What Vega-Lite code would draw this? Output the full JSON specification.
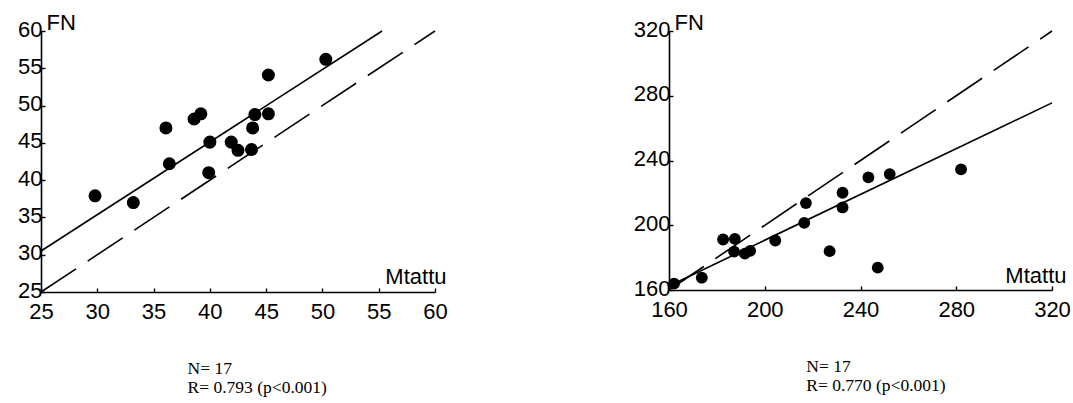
{
  "$schema": "https://vega.github.io/schema/vega-lite/v6.json",
  "background": "white",
  "padding": {"left": 17, "top": 11, "right": 5, "bottom": 5},
  "spacing": 185,
  "config": {
    "view": {"stroke": null},
    "axis": {
      "grid": false,
      "domainColor": "black",
      "domainWidth": 1.6,
      "tickColor": "black",
      "tickWidth": 1.4,
      "tickSize": -4,
      "labelFont": "Liberation Sans",
      "labelFontSize": 22,
      "labelColor": "black",
      "labelFlush": false,
      "labelOverlap": false,
      "titleFont": "Liberation Sans",
      "titleFontSize": 22,
      "titleFontWeight": "normal",
      "titleColor": "black",
      "titleAngle": 0
    }
  },
  "datasets": {
    "leftPts": [
      {"m": 29.8, "fn": 37.9}, {"m": 33.2, "fn": 37.0}, {"m": 36.1, "fn": 47.0},
      {"m": 36.4, "fn": 42.2}, {"m": 38.6, "fn": 48.2}, {"m": 39.2, "fn": 48.9},
      {"m": 40.0, "fn": 45.1}, {"m": 39.9, "fn": 41.0}, {"m": 41.9, "fn": 45.1},
      {"m": 42.5, "fn": 44.0}, {"m": 43.7, "fn": 44.1}, {"m": 43.8, "fn": 47.0},
      {"m": 44.0, "fn": 48.8}, {"m": 45.2, "fn": 48.9}, {"m": 45.2, "fn": 54.1},
      {"m": 50.3, "fn": 56.2}
    ],
    "leftLines": [
      {"kind": "fit", "m": 25, "fn": 30.5}, {"kind": "fit", "m": 55.3, "fn": 60},
      {"kind": "identity", "m": 25, "fn": 25}, {"kind": "identity", "m": 60, "fn": 60}
    ],
    "rightPts": [
      {"m": 162.1, "fn": 163.9}, {"m": 173.7, "fn": 167.6}, {"m": 182.6, "fn": 191.2},
      {"m": 187.5, "fn": 191.6}, {"m": 187.2, "fn": 183.7}, {"m": 191.7, "fn": 182.5},
      {"m": 193.9, "fn": 184.2}, {"m": 204.4, "fn": 190.6}, {"m": 217.2, "fn": 213.7},
      {"m": 216.5, "fn": 201.5}, {"m": 232.5, "fn": 220.1}, {"m": 232.5, "fn": 211.0},
      {"m": 227.1, "fn": 184.0}, {"m": 243.3, "fn": 229.6}, {"m": 252.2, "fn": 231.6},
      {"m": 247.2, "fn": 173.8}, {"m": 282.0, "fn": 234.5}
    ],
    "rightLines": [
      {"kind": "fit", "m": 160, "fn": 162.5}, {"kind": "fit", "m": 320, "fn": 275.6},
      {"kind": "identity", "m": 160, "fn": 160}, {"kind": "identity", "m": 320, "fn": 320}
    ]
  },
  "hconcat": [
    {
      "width": 394,
      "height": 261,
      "title": {
        "text": ["N= 17", "R= 0.793 (p<0.001)"],
        "orient": "bottom",
        "anchor": "start",
        "dx": 170,
        "offset": 38,
        "font": "Liberation Serif",
        "fontSize": 17.5,
        "fontWeight": "normal",
        "color": "black",
        "lineHeight": 19
      },
      "encoding": {
        "x": {
          "field": "m", "type": "quantitative",
          "scale": {"domain": [25, 60], "nice": false, "zero": false},
          "axis": {"values": [25, 30, 35, 40, 45, 50, 55, 60], "title": "Mtattu", "titleAlign": "right", "titleBaseline": "alphabetic", "titleX": 405, "titleY": -9, "labelPadding": 13}
        },
        "y": {
          "field": "fn", "type": "quantitative",
          "scale": {"domain": [25, 60], "nice": false, "zero": false},
          "axis": {"values": [25, 30, 35, 40, 45, 50, 55, 60], "title": "FN", "titleAlign": "left", "titleBaseline": "alphabetic", "titleX": 5, "titleY": -2, "labelPadding": 3, "labelBaseline": "middle", "labelOffset": -2}
        }
      },
      "layer": [
        {
          "data": {"name": "leftLines"},
          "transform": [{"filter": "datum.kind === 'identity'"}],
          "mark": {"type": "line", "color": "black", "strokeWidth": 1.6, "strokeDash": [42, 14]}
        },
        {
          "data": {"name": "leftLines"},
          "transform": [{"filter": "datum.kind === 'fit'"}],
          "mark": {"type": "line", "color": "black", "strokeWidth": 1.6}
        },
        {
          "data": {"name": "leftPts"},
          "mark": {"type": "circle", "color": "black", "size": 170, "opacity": 1}
        }
      ]
    },
    {
      "width": 383,
      "height": 259,
      "title": {
        "text": ["N= 17", "R= 0.770 (p<0.001)"],
        "orient": "bottom",
        "anchor": "start",
        "dx": 173,
        "offset": 38,
        "font": "Liberation Serif",
        "fontSize": 17.5,
        "fontWeight": "normal",
        "color": "black",
        "lineHeight": 19
      },
      "encoding": {
        "x": {
          "field": "m", "type": "quantitative",
          "scale": {"domain": [160, 320], "nice": false, "zero": false},
          "axis": {"values": [160, 200, 240, 280, 320], "title": "Mtattu", "titleAlign": "right", "titleBaseline": "alphabetic", "titleX": 397, "titleY": -8, "labelPadding": 13}
        },
        "y": {
          "field": "fn", "type": "quantitative",
          "scale": {"domain": [160, 320], "nice": false, "zero": false},
          "axis": {"values": [160, 200, 240, 280, 320], "title": "FN", "titleAlign": "left", "titleBaseline": "alphabetic", "titleX": 5, "titleY": -2, "labelPadding": 3, "labelBaseline": "middle", "labelOffset": -2}
        }
      },
      "layer": [
        {
          "data": {"name": "rightLines"},
          "transform": [{"filter": "datum.kind === 'identity'"}],
          "mark": {"type": "line", "color": "black", "strokeWidth": 1.6, "strokeDash": [42, 14]}
        },
        {
          "data": {"name": "rightLines"},
          "transform": [{"filter": "datum.kind === 'fit'"}],
          "mark": {"type": "line", "color": "black", "strokeWidth": 1.6}
        },
        {
          "data": {"name": "rightPts"},
          "mark": {"type": "circle", "color": "black", "size": 140, "opacity": 1}
        }
      ]
    }
  ]
}
